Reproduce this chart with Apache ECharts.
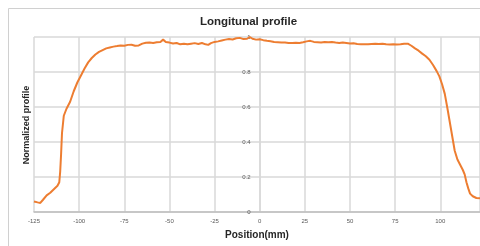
<!DOCTYPE html>
<html>
<head>
<meta charset="utf-8">
<script src="https://cdn.jsdelivr.net/npm/echarts@6/dist/echarts.min.js"></script>
<style>
html, body { margin: 0; padding: 0; background: #fff; }
#chart { width: 480px; height: 246px; }
</style>
</head>
<body>
<div id="chart"></div>
<script>
// position along the profile (mm) and normalized value
var positions = [
    -125, -123, -121.5, -120, -118, -116, -114, -112, -111, -110.5, -110, -109.5, -108.5, -107, -105,
    -103, -101, -99, -97, -95, -93, -91, -89, -87, -85, -83, -81, -79, -77, -75, -73, -71, -69, -67,
    -65, -63, -61, -59, -57, -55, -53.5, -52, -50, -48, -46, -44, -42, -40, -38, -36, -34, -32, -30,
    -28.5, -27, -25, -23, -21, -19, -17, -15, -13, -11, -9, -7, -5.5, -4, -2, 0, 2, 4, 6, 8, 10, 12,
    14, 16, 18, 20, 22, 24, 26, 28, 30, 32, 34, 36, 38, 40, 42, 44, 46, 48, 50, 52, 54, 56, 58, 60,
    62, 64, 66, 68, 70, 72, 74, 76, 78, 80, 82, 84, 86, 88, 90, 92, 94, 96, 98, 99.5, 101, 102.5,
    104, 105, 106, 107, 108, 109.5, 111, 112.5, 113.5, 114.5, 115.5, 116.5, 118, 120, 122
];
var profile = [
    0.06, 0.055, 0.052, 0.07, 0.095, 0.11, 0.13, 0.15, 0.17, 0.23, 0.33, 0.45, 0.55, 0.59, 0.63,
    0.69, 0.74, 0.78, 0.82, 0.855, 0.88, 0.9, 0.915, 0.925, 0.935, 0.94, 0.945, 0.948, 0.952, 0.95, 0.955, 0.956, 0.95, 0.952,
    0.962, 0.967, 0.968, 0.966, 0.97, 0.972, 0.985, 0.972, 0.968, 0.963, 0.966, 0.958, 0.962, 0.958, 0.962, 0.965, 0.96, 0.966, 0.958,
    0.955, 0.965, 0.972, 0.975, 0.98, 0.985, 0.988, 0.986, 0.993, 0.995, 0.988, 0.99, 1.0, 0.99, 0.985, 0.987, 0.982, 0.978, 0.976, 0.972, 0.97, 0.968,
    0.969, 0.966, 0.966, 0.967, 0.966, 0.97, 0.975, 0.978, 0.972, 0.97, 0.968, 0.972, 0.97, 0.971, 0.968, 0.966, 0.969, 0.966, 0.963, 0.964, 0.96, 0.959, 0.958, 0.958,
    0.96, 0.961, 0.96, 0.962, 0.958, 0.957, 0.959, 0.957, 0.958, 0.962, 0.962, 0.95, 0.935, 0.922, 0.905, 0.89, 0.87, 0.84, 0.805, 0.775, 0.73, 0.675,
    0.59, 0.53, 0.47, 0.41, 0.35, 0.3, 0.27, 0.24, 0.215, 0.17, 0.135, 0.105, 0.09, 0.08, 0.078
];

var chart = echarts.init(document.getElementById('chart'));
var gridColor = '#d9d9d9';
var xMin = -125, xMax = 122, gridLeft = 34, gridRight = 0;
// shift the y axis from the left edge to x = 0
var zeroOffset = -(480 - gridLeft - gridRight) * (0 - xMin) / (xMax - xMin);

chart.setOption({
    animation: false,
    backgroundColor: '#fff',
    title: {
        text: 'Longitunal profile',
        left: 200,
        top: 16,
        padding: 0,
        textStyle: { fontFamily: 'Liberation Sans', fontSize: 11.5, fontWeight: 'bold', color: '#262626' }
    },
    graphic: [
        {
            type: 'rect',
            shape: { x: 8.5, y: 8.5, width: 500, height: 300 },
            style: { fill: 'none', stroke: '#d0d0d0', lineWidth: 1 },
            silent: true
        },
        {
            type: 'text',
            x: 27,
            y: 125,
            rotation: Math.PI / 2,
            style: {
                text: 'Normalized profile',
                fontFamily: 'Liberation Sans',
                fontSize: 9,
                fontWeight: 'bold',
                fill: '#262626',
                align: 'center',
                verticalAlign: 'middle'
            }
        }
    ],
    grid: { left: gridLeft, right: gridRight, top: 37, bottom: 34 },
    xAxis: {
        type: 'value',
        min: xMin,
        max: xMax,
        interval: 25,
        name: 'Position(mm)',
        nameLocation: 'middle',
        nameGap: 18,
        nameTextStyle: { fontFamily: 'Liberation Sans', fontSize: 10, fontWeight: 'bold', color: '#262626' },
        axisLine: { lineStyle: { color: '#bfbfbf', width: 1.5 } },
        axisTick: { show: false },
        axisLabel: { fontSize: 6, color: '#595959', margin: 6, showMaxLabel: false },
        splitLine: { lineStyle: { color: gridColor, width: 1.5 } }
    },
    yAxis: {
        type: 'value',
        min: 0,
        max: 1,
        interval: 0.2,
        position: 'left',
        offset: zeroOffset,
        axisLine: { show: true, onZero: false, lineStyle: { color: gridColor, width: 1.5 } },
        axisTick: { show: false },
        axisLabel: { fontSize: 6, color: '#595959', margin: 9 },
        splitLine: { lineStyle: { color: gridColor, width: 1.5 } }
    },
    series: [{
        type: 'line',
        showSymbol: false,
        data: positions.map(function (p, i) { return [p, profile[i]]; }),
        lineStyle: { color: '#ED7D31', width: 2 }
    }]
});
</script>
</body>
</html>
